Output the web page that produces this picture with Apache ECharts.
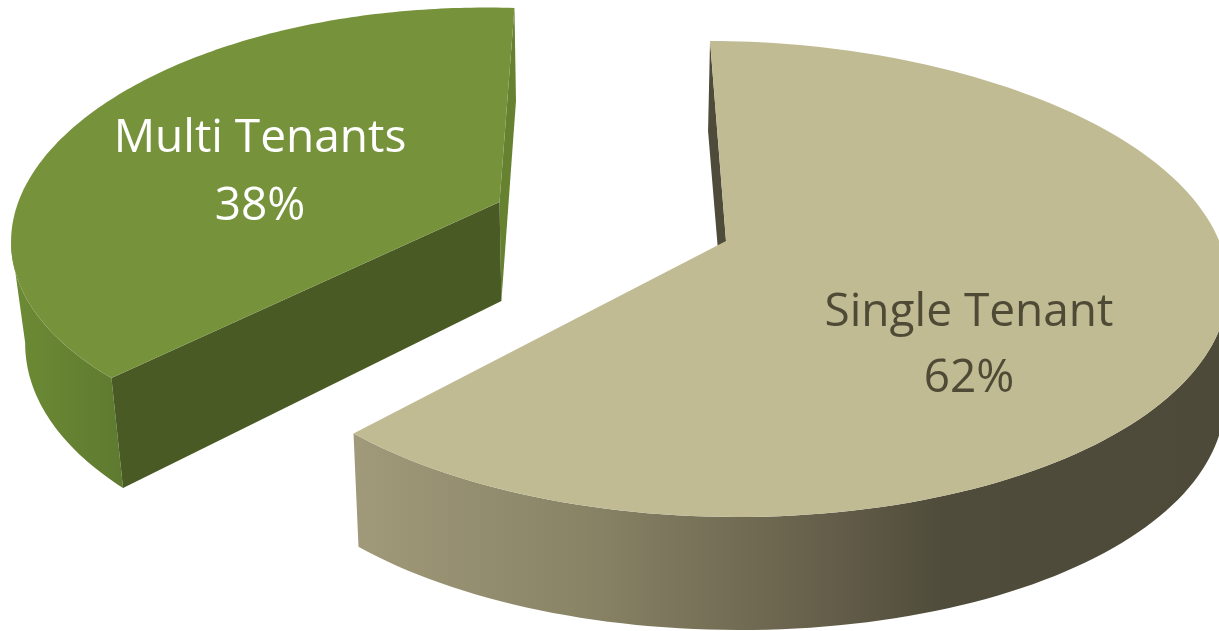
<!DOCTYPE html>
<html>
<head>
<meta charset="utf-8">
<style>html,body{margin:0;padding:0;background:#fff}#chart{width:1219px;height:631px}</style>
<script src="https://cdn.jsdelivr.net/npm/echarts@6/dist/echarts.min.js"></script>
</head>
<body>
<div id="chart"></div>
<script>
// Tenancy split
const categories = ['Single Tenant', 'Multi Tenants'];
const shareValues = [62, 38];

// Perspective and look of each exploded slice
const sliceLayout = {
  'Single Tenant': {
    apex: [726, 241], rx: 489, ry: 232.6, px: 0.19, py: 0.163, shear: 19,
    lift: 10.5, liftPower: 3,
    depth: [109, 11.5, -7.5], floorScale: 0.992, floorShift: 0.27, floorTilt: 2.37,
    top: '#c0bb93', startFace: '#4f4b3a', endFace: null, wallFacing: 'right',
    wall: { x: 355, x2: 1219, stops: [[0, '#a09a7a'], [0.25, '#8b8568'], [0.5, '#6b654f'], [0.68, '#504c3b'], [1, '#4e4a39']] },
    text: '#4f4a36', labelX: 969, labelY: [313, 379]
  },
  'Multi Tenants': {
    apex: [499.5, 202], rx: 478, ry: 218.9, px: 0.17, py: 0.128, shear: -17.5,
    lift: 9, liftPower: 1,
    depth: [99, 11.26, 5.26], floorScale: 0.975, floorShift: 1.9, floorTilt: 0,
    top: '#76933c', startFace: '#4a5a25', endFace: '#66812f', wallFacing: 'left',
    wall: { x: 11, x2: 125, stops: [[0, '#6d8b35'], [1, '#5e7a30']] },
    text: '#ffffff', labelX: 260, labelY: [139, 207]
  }
};
const labelFont = '46px "Open Sans", sans-serif';

const total = shareValues.reduce((a, b) => a + b, 0);

// Project a rim angle onto the slice's tilted top face
function rimPoint(lay, deg, frac) {
  const t = deg * Math.PI / 180;
  const u = Math.sin(t), v = -Math.cos(t);
  const lift = lay.lift * Math.pow(Math.sin(Math.PI * frac), lay.liftPower);
  return [
    lay.apex[0] + (lay.rx * u + lay.shear * v) / (1 - lay.px * v),
    lay.apex[1] + lay.ry * v / (1 - lay.py * v) - lift,
    v
  ];
}
// Drop a top-face point to the underside of the slab
function toFloor(lay, p, v) {
  const h = lay.depth[0] + lay.depth[1] * v + lay.depth[2] * v * v;
  return [
    lay.apex[0] + (p[0] - lay.apex[0]) * lay.floorScale + lay.floorShift + lay.floorTilt * v,
    p[1] + h
  ];
}
function rimArc(lay, from, to) {
  const pts = [];
  const n = 160;
  for (let i = 0; i <= n; i++) pts.push(rimPoint(lay, from + (to - from) * i / n, i / n));
  return pts;
}
function face(points, fill) {
  return { type: 'polygon', shape: { points: points }, style: { fill: fill, stroke: null } };
}

function renderSlice(params, api) {
  const idx = params.dataIndex;
  const name = categories[idx];
  const value = api.value(0);
  const lay = sliceLayout[name];
  let before = 0;
  for (let i = 0; i < idx; i++) before += shareValues[i];
  const a0 = before / total * 360;
  const a1 = (before + value) / total * 360;

  const arc = rimArc(lay, a0, a1);
  const rim = arc.map(p => [p[0], p[1]]);
  const floor = arc.map(p => toFloor(lay, p, p[2]));
  const apexFloor = toFloor(lay, lay.apex, 0);

  // Only the part of the curved wall between the silhouette point and the near corner shows
  const xs = rim.map(p => p[0]);
  const turn = lay.wallFacing === 'left' ? xs.indexOf(Math.min(...xs)) : xs.indexOf(Math.max(...xs));
  const wallRim = lay.wallFacing === 'left' ? rim.slice(0, turn + 1) : rim.slice(turn);
  const wallFloor = lay.wallFacing === 'left' ? floor.slice(0, turn + 1) : floor.slice(turn);

  const grad = new echarts.graphic.LinearGradient(lay.wall.x, 0, lay.wall.x2, 0,
    lay.wall.stops.map(s => ({ offset: s[0], color: s[1] })), true);

  const kids = [face(wallRim.concat(wallFloor.slice().reverse()), grad)];
  if (lay.endFace) kids.push(face([rim[rim.length - 1], floor[floor.length - 1], apexFloor, lay.apex], lay.endFace));
  if (lay.startFace) kids.push(face([rim[0], floor[0], apexFloor, lay.apex], lay.startFace));
  kids.push(face(rim.concat([lay.apex]), lay.top));

  [name, Math.round(value / total * 100) + '%'].forEach((line, i) => {
    kids.push({
      type: 'text',
      style: {
        text: line, x: lay.labelX, y: lay.labelY[i], fill: lay.text,
        font: labelFont, textAlign: 'center', textVerticalAlign: 'middle'
      }
    });
  });
  return { type: 'group', children: kids };
}

const chart = echarts.init(document.getElementById('chart'), null, { renderer: 'canvas' });
chart.setOption({
  animation: false,
  backgroundColor: '#ffffff',
  series: [{
    type: 'custom',
    coordinateSystem: 'none',
    silent: true,
    renderItem: renderSlice,
    data: shareValues.map((v, i) => ({ name: categories[i], value: [v] }))
  }]
});
</script>
</body>
</html>
